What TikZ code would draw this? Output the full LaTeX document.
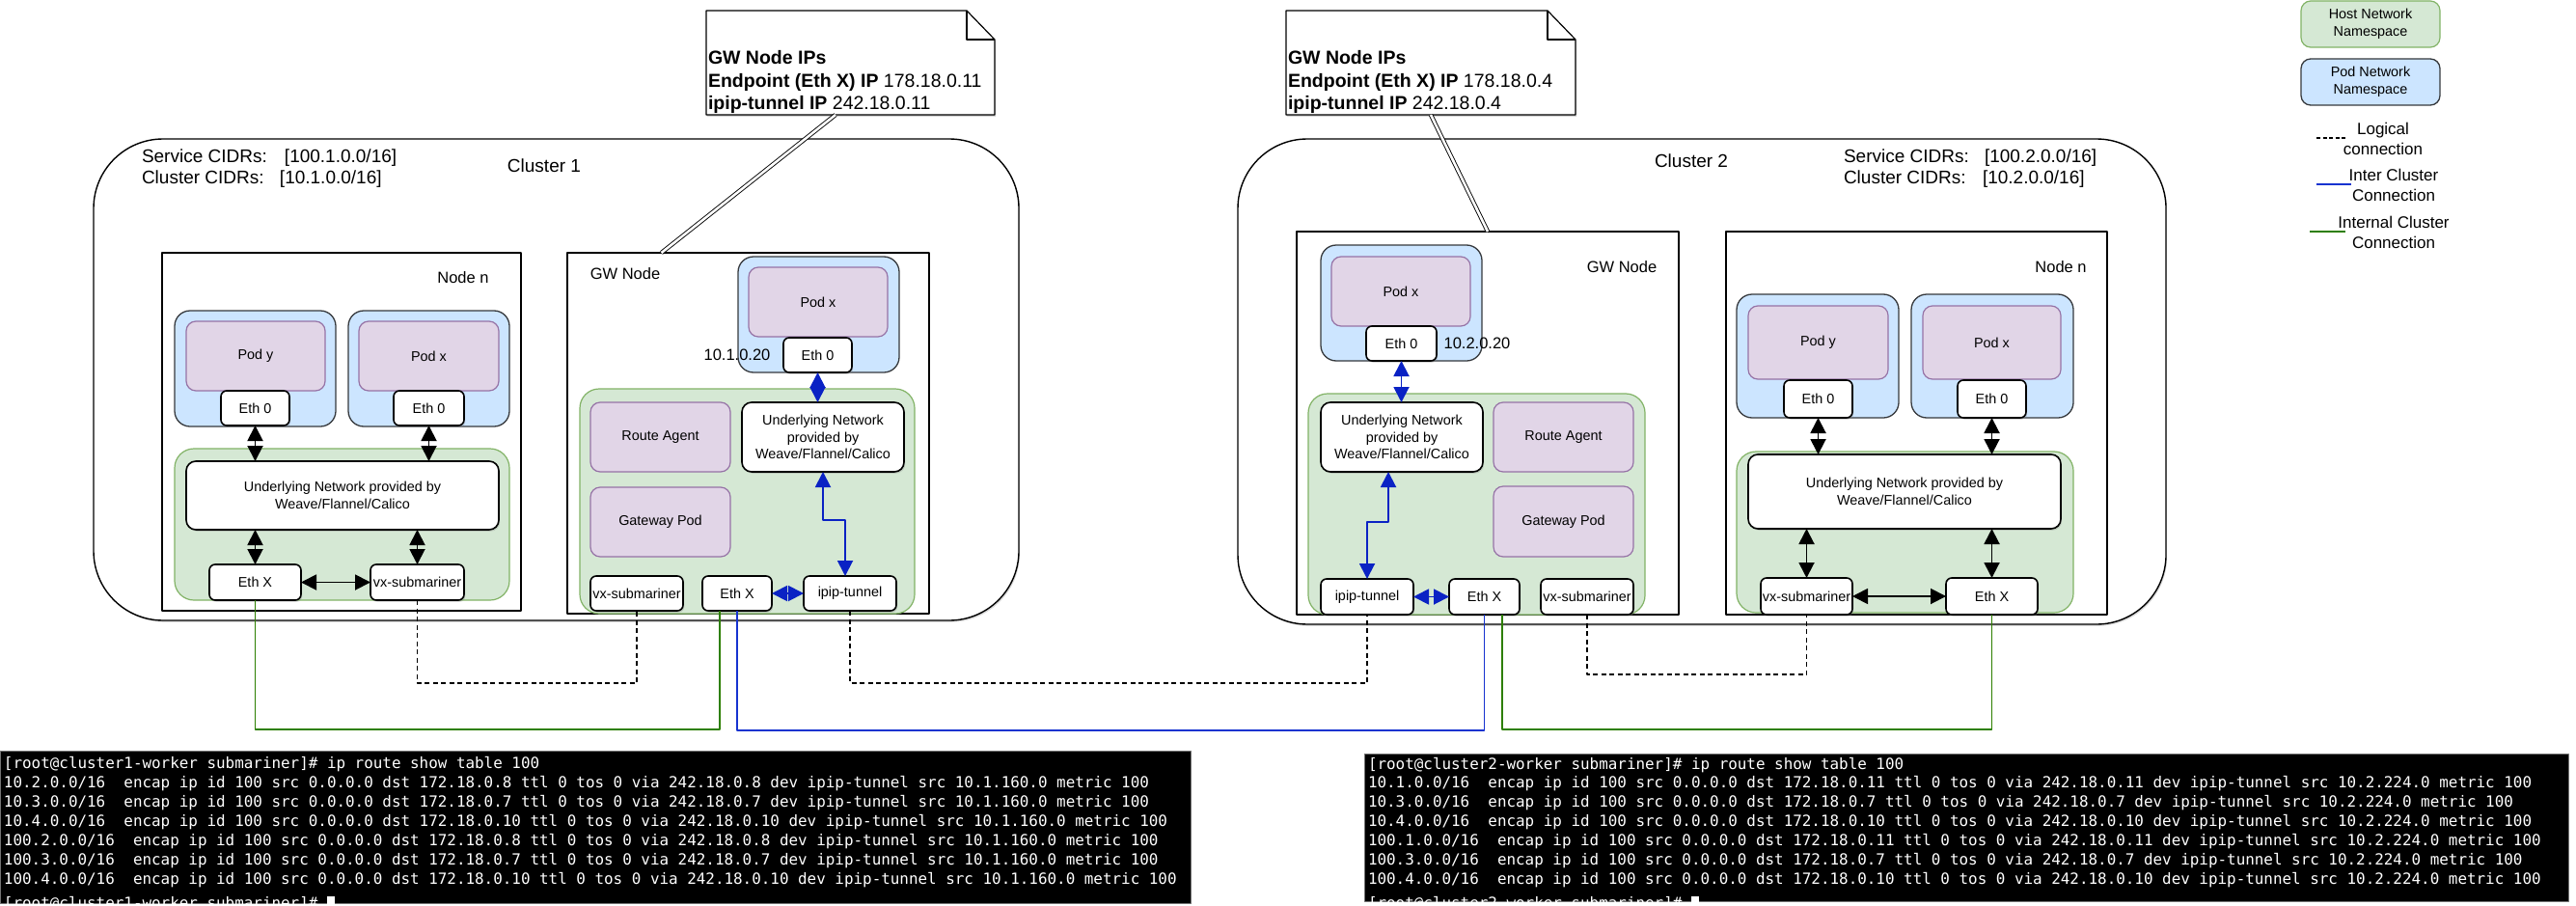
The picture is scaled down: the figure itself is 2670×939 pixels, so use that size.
\documentclass[tikz,border=0pt]{standalone}
\usepackage{fontspec}
\setmainfont{Liberation Sans}
\newfontfamily\termfont{DejaVu Sans Mono}
\usetikzlibrary{arrows.meta,shadows}

\definecolor{hostfill}{HTML}{D5E8D4}
\definecolor{hostline}{HTML}{82B366}
\definecolor{podfill}{HTML}{CCE5FF}
\definecolor{podline}{HTML}{36393D}
\definecolor{ctrfill}{HTML}{E1D5E7}
\definecolor{ctrline}{HTML}{9673A6}
\definecolor{tunblue}{HTML}{0A22C4}
\definecolor{wireblue}{HTML}{1633D0}
\definecolor{wiregreen}{HTML}{2D7F00}

\newcommand{\fsz}[2]{\fontsize{#1}{#2}\selectfont}
% box given by its corners (x1,y1) and (x2,y2), in pixels from the top left
\newcommand{\boxat}[7]{\node[#2, minimum width={(#5-#3)*1pt}, minimum height={(#6-#4)*1pt}] (#1) at ({(#3+#5)/2},{(#4+#6)/2}) {#7};}

\tikzset{
  lbl14/.style={font={\fsz{14.4}{17.5}}},
  lbl16/.style={font={\fsz{16.5}{20}}},
  lbl17/.style={font={\fsz{17}{21}}},
  lbl19/.style={font={\fsz{19}{23.5}}},
  softshadow/.style={drop shadow={shadow xshift=1.2pt, shadow yshift=-1.8pt, opacity=0.3}},
  cluster/.style={draw, fill=white, line width=1.4pt, rounded corners=72pt, softshadow},
  frame/.style={draw, line width=1.3pt},
  hostbox/.style={draw=hostline, fill=hostfill, line width=1.2pt, rounded corners=20pt},
  podbox/.style={draw=podline, fill=podfill, line width=1.3pt, rounded corners=16pt},
  ctr/.style={draw=ctrline, fill=ctrfill, line width=1.2pt, rounded corners=10pt, lbl14},
  port/.style={draw, fill=white, line width=1.6pt, rounded corners=6pt, lbl14, softshadow},
  netbox/.style={draw, fill=white, line width=1.6pt, rounded corners=10pt, lbl14, align=center, softshadow},
  notearea/.style={},
  notebody/.style={draw, fill=white, line width=1.2pt, softshadow},
  notetext/.style={font={\fsz{19.5}{23.5}}, align=left, anchor=west},
  notelink/.style={draw, double=white, double distance=2.6pt, line width=0.9pt},
  biblk/.style={draw, line width=1.9pt, {Triangle[length=16pt,width=16pt]}-{Triangle[length=16pt,width=16pt]}},
  biblue/.style={draw=tunblue, line width=1.9pt, {Triangle[length=16pt,width=16pt]}-{Triangle[length=16pt,width=16pt]}},
  wiregrn/.style={draw=wiregreen, line width=1.4pt},
  wireblu/.style={draw=wireblue, line width=1.4pt},
  logical/.style={draw, line width=1.3pt, dash pattern=on 5pt off 3.5pt},
  termbox/.style={fill=black, draw=black!55, line width=1pt},
  termline/.style={anchor=west, text=white, font={\termfont\fsz{15.9}{19}}, text height=11.5pt, text depth=3pt},
}

\begin{document}
\begin{tikzpicture}[x=1pt, y=-1pt, inner sep=0pt, outer sep=0pt, line join=round]
\useasboundingbox (0,0) rectangle (2670,939);
\fill[white] (0,0) rectangle (2670,939);

% ---------------- clusters ----------------
\boxat{cl1}{cluster}{97}{144}{1056}{643}{}
\boxat{cl2}{cluster}{1283}{144}{2245}{647}{}

\node[lbl19] (cl1name) at (564,172) {Cluster 1};
\node[lbl19] (cl2name) at (1753,167) {Cluster 2};
\node[lbl19, font={\fsz{19}{22}}, anchor=west, align=left] (cl1cidr) at (147,175)
  {\makebox[148pt][l]{Service CIDRs:}[100.1.0.0/16]\\\makebox[143pt][l]{Cluster CIDRs:}[10.1.0.0/16]};
\node[lbl19, font={\fsz{19}{22}}, anchor=west, align=left] (cl2cidr) at (1911,175)
  {\makebox[146pt][l]{Service CIDRs:}[100.2.0.0/16]\\\makebox[144pt][l]{Cluster CIDRs:}[10.2.0.0/16]};

% ---------------- gateway notes ----------------
\boxat{nt1}{notearea}{732}{11}{1031}{119}{}
\boxat{nt2}{notearea}{1333}{11}{1633}{119}{}
\foreach \n in {nt1,nt2}{
  \draw[notebody] (\n.north west) -- ([xshift=-29pt]\n.north east) -- ([yshift=-30pt]\n.north east)
    -- (\n.south east) -- (\n.south west) -- cycle;
  \draw[line width=1.2pt] ([xshift=-29pt]\n.north east) -- ([xshift=-29pt,yshift=-30pt]\n.north east)
    -- ([yshift=-30pt]\n.north east);
}
\node[notetext] (nt1txt) at (734,85)
  {\textbf{GW Node IPs}\\\textbf{Endpoint (Eth X) IP} 178.18.0.11\\\textbf{ipip-tunnel IP} 242.18.0.11};
\node[notetext] (nt2txt) at (1335,85)
  {\textbf{GW Node IPs}\\\textbf{Endpoint (Eth X) IP} 178.18.0.4\\\textbf{ipip-tunnel IP} 242.18.0.4};

% ---------------- cluster 1 : node n ----------------
\boxat{nn1}{frame}{168}{262}{540}{633}{}
\node[lbl16] (nn1name) at (480,288) {Node n};
\boxat{bpy1}{podbox}{181}{322}{348}{442}{}
\boxat{ppy1}{ctr}{193}{333}{337}{405}{Pod y}
\boxat{e0y1}{port}{229}{405}{300}{441}{Eth 0}
\boxat{bpx1}{podbox}{361}{322}{528}{442}{}
\boxat{ppx1}{ctr}{372}{333}{517}{405}{Pod x}
\boxat{e0x1}{port}{408}{405}{481}{441}{Eth 0}
\boxat{hn1}{hostbox}{181}{465}{528}{622}{}
\boxat{un1n}{netbox}{193}{478}{517}{549}{Underlying Network provided by\\Weave/Flannel/Calico}
\boxat{exn1}{port}{217}{585}{312}{622}{Eth X}
\boxat{vxn1}{port}{384}{585}{481}{622}{vx-submariner}

\draw[biblk] (e0y1.south) -- (e0y1.south |- un1n.north);
\draw[biblk] (e0x1.south) -- (e0x1.south |- un1n.north);
\draw[biblk] (exn1.north |- un1n.south) -- (exn1.north);
\draw[biblk] (vxn1.north |- un1n.south) -- (vxn1.north);
\draw[biblk] (exn1.east) -- (vxn1.west);

% ---------------- cluster 1 : gateway node ----------------
\boxat{gw1}{frame}{588}{262}{963}{636}{}
\node[lbl16] (gw1name) at (648,284) {GW Node};
\boxat{bpg1}{podbox}{765}{266}{932}{386}{}
\boxat{ppg1}{ctr}{776}{277}{920}{349}{Pod x}
\boxat{e0g1}{port}{812}{350}{883}{386}{Eth 0}
\node[lbl16] (ip1lbl) at (764,368) {10.1.0.20};
\boxat{hg1}{hostbox}{601}{403}{948}{636}{}
\boxat{ra1}{ctr}{612}{417}{757}{489}{Route Agent}
\boxat{ung1}{netbox}{769}{417}{937}{489}{Underlying Network\\provided by\\Weave/Flannel/Calico}
\boxat{gp1}{ctr}{612}{505}{757}{577}{Gateway Pod}
\boxat{vxg1}{port}{612}{597}{708}{633}{vx-submariner}
\boxat{exg1}{port}{728}{597}{800}{633}{Eth X}
\boxat{ipg1}{port}{833}{597}{929}{633}{ipip-tunnel}

\coordinate (bend1) at (0,539);
\coordinate (ip1top) at ([xshift=-5pt]ipg1.north);
\draw[biblue] (e0g1.south) -- (e0g1.south |- ung1.north);
\draw[biblue] (ung1.south) -- (ung1.south |- bend1) -| (ip1top);
\draw[biblue] (exg1.east) -- (ipg1.west);

% ---------------- cluster 2 : gateway node ----------------
\boxat{gw2}{frame}{1344}{240}{1740}{637}{}
\node[lbl16] (gw2name) at (1681,277) {GW Node};
\boxat{bpg2}{podbox}{1369}{254}{1536}{374}{}
\boxat{ppg2}{ctr}{1380}{266}{1524}{338}{Pod x}
\boxat{e0g2}{port}{1416}{338}{1489}{374}{Eth 0}
\node[lbl16] (ip2lbl) at (1531,356) {10.2.0.20};
\boxat{hg2}{hostbox}{1356}{408}{1705}{637}{}
\boxat{ung2}{netbox}{1369}{417}{1537}{489}{Underlying Network\\provided by\\Weave/Flannel/Calico}
\boxat{ra2}{ctr}{1548}{417}{1693}{489}{Route Agent}
\boxat{gp2}{ctr}{1548}{504}{1693}{577}{Gateway Pod}
\boxat{ipg2}{port}{1369}{600}{1465}{637}{ipip-tunnel}
\boxat{exg2}{port}{1502}{600}{1575}{637}{Eth X}
\boxat{vxg2}{port}{1597}{600}{1693}{637}{vx-submariner}

\coordinate (bend2) at (0,541);
\coordinate (un2bot) at ([xshift=-14pt]ung2.south);
\draw[biblue] (e0g2.south) -- (e0g2.south |- ung2.north);
\draw[biblue] (un2bot) -- (un2bot |- bend2) -| (ipg2.north);
\draw[biblue] (ipg2.east) -- (exg2.west);

% ---------------- cluster 2 : node n ----------------
\boxat{nn2}{frame}{1789}{240}{2184}{637}{}
\node[lbl16] (nn2name) at (2136,277) {Node n};
\boxat{bpy2}{podbox}{1800}{305}{1968}{433}{}
\boxat{ppy2}{ctr}{1812}{317}{1957}{393}{Pod y}
\boxat{e0y2}{port}{1849}{394}{1920}{433}{Eth 0}
\boxat{bpx2}{podbox}{1981}{305}{2149}{433}{}
\boxat{ppx2}{ctr}{1993}{317}{2136}{393}{Pod x}
\boxat{e0x2}{port}{2029}{394}{2100}{433}{Eth 0}
\boxat{hn2}{hostbox}{1800}{468}{2149}{635}{}
\boxat{un2n}{netbox}{1812}{471}{2136}{548}{Underlying Network provided by\\Weave/Flannel/Calico}
\boxat{vxn2}{port}{1825}{599}{1920}{637}{vx-submariner}
\boxat{exn2}{port}{2017}{599}{2112}{637}{Eth X}

\draw[biblk] (e0y2.south) -- (e0y2.south |- un2n.north);
\draw[biblk] (e0x2.south) -- (e0x2.south |- un2n.north);
\draw[biblk] (vxn2.north |- un2n.south) -- (vxn2.north);
\draw[biblk] (exn2.north |- un2n.south) -- (exn2.north);
\draw[biblk] (vxn2.east) -- (exn2.west);

% ---------------- note links ----------------
\draw[notelink] ([xshift=-15.5pt]nt1.south) -- ([xshift=-90pt]gw1.north);
\draw[notelink] (nt2.south) -- (gw2.north);

% ---------------- wiring between nodes and clusters ----------------
\coordinate (yGreen) at (0,756);
\coordinate (yBlue) at (0,757);
\coordinate (yDash) at (0,708);
\coordinate (yDashB) at (0,699);
\coordinate (g1top) at ([xshift=-18pt]exg1.south);
\coordinate (g2top) at ([xshift=18.5pt]exg2.south);

\draw[wiregrn] (exn1.south) -- (exn1.south |- yGreen) -| (g1top);
\draw[wireblu] (exg1.south) -- (exg1.south |- yBlue) -| (exg2.south);
\draw[wiregrn] (g2top) -- (g2top |- yGreen) -| (exn2.south);
\draw[logical] (vxn1.south) -- (vxn1.south |- yDash) -| (vxg1.south);
\draw[logical] (ipg1.south) -- (ipg1.south |- yDash) -| (ipg2.south);
\draw[logical] (vxg2.south) -- (vxg2.south |- yDashB) -| (vxn2.south);

% ---------------- legend ----------------
\boxat{lgHost}{hostbox, rounded corners=10pt, lbl14, align=center}{2385}{1}{2529}{49}{Host Network\\Namespace}
\boxat{lgPod}{podbox, rounded corners=10pt, lbl14, align=center}{2385}{61}{2529}{109}{Pod Network\\Namespace}
\coordinate (lgL1) at (2401,143);
\coordinate (lgL2) at (2433,143);
\draw[logical, dash pattern=on 4pt off 2.5pt] (lgL1) -- (lgL2);
\node[lbl17, align=center] (lgLtxt) at (2470,144) {Logical\\connection};
\coordinate (lgB1) at (2401,191);
\coordinate (lgB2) at (2437,191);
\draw[wireblu] (lgB1) -- (lgB2);
\node[lbl17, align=center] (lgBtxt) at (2481,192) {Inter Cluster\\Connection};
\coordinate (lgG1) at (2394,240);
\coordinate (lgG2) at (2431,240);
\draw[wiregrn] (lgG1) -- (lgG2);
\node[lbl17, align=center] (lgGtxt) at (2481,241) {Internal Cluster\\Connection};

% ---------------- route tables ----------------
\boxat{term1}{termbox}{0}{778}{1234}{936}{}
\begin{scope}
\clip (term1.north west) rectangle (term1.south east);
\node[termline] (t1a) at (4,792) {[root@cluster1-worker submariner]\# ip route show table 100};
\node[termline] (t1b) at (4,812) {10.2.0.0/16~~encap ip id 100 src 0.0.0.0 dst 172.18.0.8 ttl 0 tos 0 via 242.18.0.8 dev ipip-tunnel src 10.1.160.0 metric 100};
\node[termline] (t1c) at (4,832) {10.3.0.0/16~~encap ip id 100 src 0.0.0.0 dst 172.18.0.7 ttl 0 tos 0 via 242.18.0.7 dev ipip-tunnel src 10.1.160.0 metric 100};
\node[termline] (t1d) at (4,852) {10.4.0.0/16~~encap ip id 100 src 0.0.0.0 dst 172.18.0.10 ttl 0 tos 0 via 242.18.0.10 dev ipip-tunnel src 10.1.160.0 metric 100};
\node[termline] (t1e) at (4,872) {100.2.0.0/16~~encap ip id 100 src 0.0.0.0 dst 172.18.0.8 ttl 0 tos 0 via 242.18.0.8 dev ipip-tunnel src 10.1.160.0 metric 100};
\node[termline] (t1f) at (4,892) {100.3.0.0/16~~encap ip id 100 src 0.0.0.0 dst 172.18.0.7 ttl 0 tos 0 via 242.18.0.7 dev ipip-tunnel src 10.1.160.0 metric 100};
\node[termline] (t1g) at (4,912) {100.4.0.0/16~~encap ip id 100 src 0.0.0.0 dst 172.18.0.10 ttl 0 tos 0 via 242.18.0.10 dev ipip-tunnel src 10.1.160.0 metric 100};
\node[termline] (t1h) at (4,937) {[root@cluster1-worker submariner]\# \rule[-3pt]{8pt}{15pt}};
\end{scope}

\boxat{term2}{termbox}{1414}{781}{2662}{934}{}
\begin{scope}
\clip (term2.north west) rectangle (term2.south east);
\node[termline] (t2a) at (1418,793) {[root@cluster2-worker submariner]\# ip route show table 100};
\node[termline] (t2b) at (1418,812) {10.1.0.0/16~~encap ip id 100 src 0.0.0.0 dst 172.18.0.11 ttl 0 tos 0 via 242.18.0.11 dev ipip-tunnel src 10.2.224.0 metric 100};
\node[termline] (t2c) at (1418,832) {10.3.0.0/16~~encap ip id 100 src 0.0.0.0 dst 172.18.0.7 ttl 0 tos 0 via 242.18.0.7 dev ipip-tunnel src 10.2.224.0 metric 100};
\node[termline] (t2d) at (1418,852) {10.4.0.0/16~~encap ip id 100 src 0.0.0.0 dst 172.18.0.10 ttl 0 tos 0 via 242.18.0.10 dev ipip-tunnel src 10.2.224.0 metric 100};
\node[termline] (t2e) at (1418,872) {100.1.0.0/16~~encap ip id 100 src 0.0.0.0 dst 172.18.0.11 ttl 0 tos 0 via 242.18.0.11 dev ipip-tunnel src 10.2.224.0 metric 100};
\node[termline] (t2f) at (1418,892) {100.3.0.0/16~~encap ip id 100 src 0.0.0.0 dst 172.18.0.7 ttl 0 tos 0 via 242.18.0.7 dev ipip-tunnel src 10.2.224.0 metric 100};
\node[termline] (t2g) at (1418,912) {100.4.0.0/16~~encap ip id 100 src 0.0.0.0 dst 172.18.0.10 ttl 0 tos 0 via 242.18.0.10 dev ipip-tunnel src 10.2.224.0 metric 100};
\node[termline] (t2h) at (1418,937) {[root@cluster2-worker submariner]\# \rule[-3pt]{8pt}{15pt}};
\end{scope}
\end{tikzpicture}
\end{document}
